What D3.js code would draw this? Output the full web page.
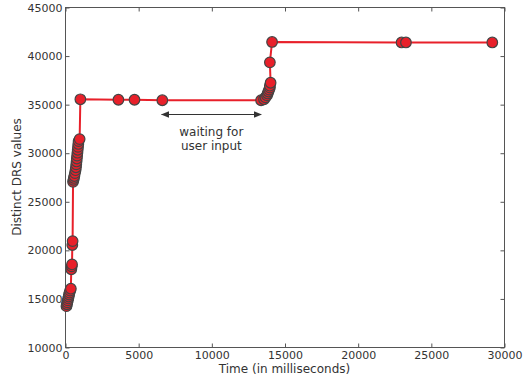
<!DOCTYPE html>
<html><head><meta charset="utf-8">
<script src="https://cdn.jsdelivr.net/npm/d3@7"></script>
<style>body{margin:0;background:#fff}svg{display:block}text{font-family:"DejaVu Sans",sans-serif}</style>
</head><body><svg id="c" width="523" height="381"></svg>
<script>
const times = [100,130,160,190,220,250,280,310,350,400,430,460,480,500,520,550,580,610,640,680,720,750,770,790,810,830,850,870,890,910,930,1000,1050,3650,4750,6650,13400,13600,13700,13800,13850,13900,13950,14000,14000,14050,14000,14150,23000,23300,29200];
const values = [14200,14400,14600,14800,15000,15200,15400,15600,15800,16000,18000,18300,18500,20500,20900,27000,27200,27400,27600,27900,28200,28500,28800,29100,29400,29700,30000,30300,30600,30900,31200,31400,35500,35450,35450,35400,35400,35500,35700,35900,36100,36300,36500,36700,36900,37200,39300,41400,41350,41350,41350];
const xTicks = [0,5000,10000,15000,20000,25000,30000];
const yTicks = [10000,15000,20000,25000,30000,35000,40000,45000];
const annotation = {from:6600, to:13400, y:34000, lines:["waiting for","user input"]};

const m = {l:65, r:504, t:7, b:347};
const svg = d3.select("#c");
const x = d3.scaleLinear().domain([0,30000]).range([m.l,m.r]);
const y = d3.scaleLinear().domain([10000,45000]).range([m.b,m.t]);
const data = times.map((t,i)=>({t, v: values[i]}));

const fc = "#555";
svg.append("rect").attr("x",m.l+0.5).attr("y",m.t+0.5).attr("width",m.r-m.l).attr("height",m.b-m.t)
  .attr("fill","none").attr("stroke",fc).attr("stroke-width",1);

function styleAxis(g){ g.select(".domain").remove(); g.selectAll("line").attr("stroke",fc);
  g.selectAll("text").attr("fill","#333").style("font-size","11px").style("font-family","DejaVu Sans"); }
svg.append("g").attr("transform",`translate(0.5,${m.b+0.5})`)
  .call(d3.axisBottom(x).tickValues(xTicks).tickSizeInner(-4).tickSizeOuter(0).tickPadding(4).tickFormat(d3.format("d"))).call(styleAxis);
svg.append("g").attr("transform",`translate(0.5,${m.t+0.5})`)
  .call(d3.axisTop(x).tickValues(xTicks).tickSizeInner(-4).tickSizeOuter(0).tickFormat("")).call(styleAxis);
svg.append("g").attr("transform",`translate(${m.l+0.5},0.5)`)
  .call(d3.axisLeft(y).tickValues(yTicks).tickSizeInner(-4).tickSizeOuter(0).tickPadding(3).tickFormat(d3.format("d"))).call(styleAxis);
svg.append("g").attr("transform",`translate(${m.r+0.5},0.5)`)
  .call(d3.axisRight(y).tickValues(yTicks).tickSizeInner(-4).tickSizeOuter(0).tickFormat("")).call(styleAxis);

svg.append("text").attr("x",(m.l+m.r)/2).attr("y",373).attr("text-anchor","middle")
  .attr("fill","#333").style("font-size","12px").text("Time (in milliseconds)");
svg.append("text").attr("transform",`translate(21,${(m.t+m.b)/2}) rotate(-90)`).attr("text-anchor","middle")
  .attr("fill","#333").style("font-size","12px").text("Distinct DRS values");

svg.append("path").datum(data).attr("fill","none").attr("stroke","#e8202a").attr("stroke-width",2)
  .attr("d", d3.line().x(d=>x(d.t)).y(d=>y(d.v)));
svg.append("g").selectAll("circle").data(data).join("circle")
  .attr("cx",d=>x(d.t)).attr("cy",d=>y(d.v)).attr("r",5.3)
  .attr("fill","#e8202a").attr("stroke","#444").attr("stroke-width",1.2);

const defs = svg.append("defs");
defs.append("marker").attr("id","ah").attr("viewBox","0 0 10 10").attr("refX",9).attr("refY",5)
  .attr("markerWidth",7).attr("markerHeight",7).attr("orient","auto-start-reverse")
  .append("path").attr("d","M0,1 L10,5 L0,9 z").attr("fill","#333");
const ay = Math.round(y(annotation.y))+0.5;
svg.append("line").attr("x1",x(annotation.from)).attr("x2",x(annotation.to)).attr("y1",ay).attr("y2",ay)
  .attr("stroke","#333").attr("stroke-width",1.2).attr("marker-start","url(#ah)").attr("marker-end","url(#ah)");
const ax = (x(annotation.from)+x(annotation.to))/2;
annotation.lines.forEach((s,i)=>svg.append("text").attr("x",ax).attr("y",ay+21+i*14).attr("text-anchor","middle")
  .attr("fill","#333").style("font-size","12px").text(s));
</script></body></html>
